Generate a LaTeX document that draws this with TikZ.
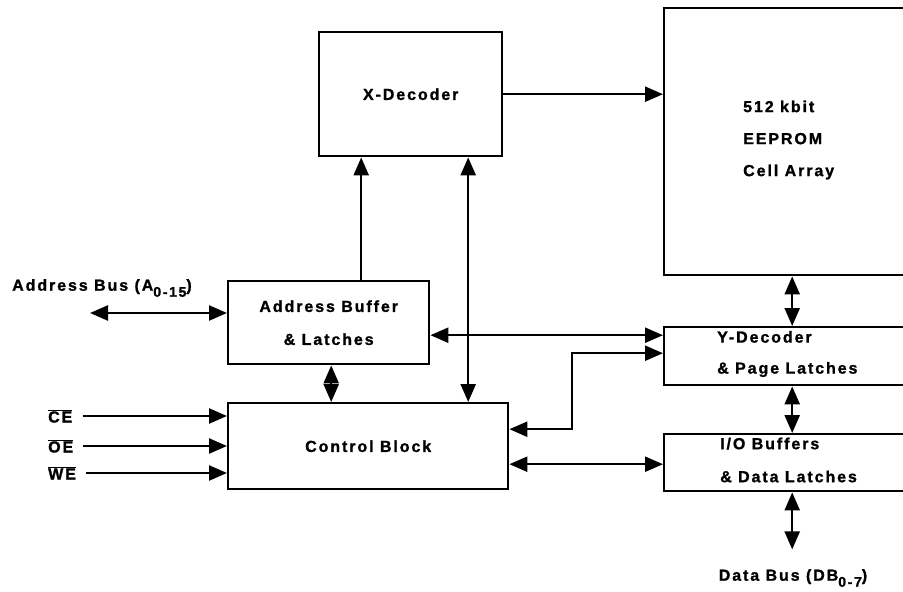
\documentclass[tikz,border=0pt]{standalone}
\usepackage{fontspec}
\setmainfont{Liberation Sans}[LetterSpace=12, UprightFont=* Bold, BoldFont=* Bold, FakeBold=1.2]
\usepackage{tikz}
\usetikzlibrary{arrows.meta, positioning, calc}

\newcommand{\lowsub}[1]{\raisebox{-6pt}{\fontsize{14}{14}\selectfont #1}}

\tikzset{
    blk/.style={draw, line width=2.4pt, inner sep=0pt, anchor=north west, align=center},
    lbl/.style={inner sep=0pt, align=left, font=\fontsize{16}{32}\selectfont},
    wire/.style={line width=2.4pt, -{Triangle[length=18pt, width=15pt]}},
    bus/.style={line width=2.4pt, {Triangle[length=18pt, width=15pt]}-{Triangle[length=18pt, width=15pt]}}
}

\begin{document}
\begin{tikzpicture}[x=1pt, y=-1pt, font=\fontsize{16}{33}\selectfont]
    \useasboundingbox (0,0) rectangle (903,592);
    \clip (0,0) rectangle (903,592);

    % blocks
    \node[blk, minimum width=183pt, minimum height=124pt] (xdec) at (318,31) {X-Decoder};
    \node[blk, minimum width=280pt, minimum height=267pt] (cells) at (663,7) {};
    \node[lbl, anchor=west] (cellt) at (743,140) {512 kbit\\EEPROM\\Cell Array};
    \node[blk, minimum width=201pt, minimum height=83pt] (abuf) at (227,280) {Address Buffer\\\& Latches};
    \node[blk, minimum width=280pt, minimum height=86pt] (ctrl) at (227,402) {Control Block};
    \node[blk, minimum width=280pt, minimum height=58pt] (ydec) at (663,326) {};
    \node[lbl, anchor=west, font=\fontsize{16}{31}\selectfont] (ydect) at (717,354) {Y-Decoder\\\& Page Latches};
    \node[blk, minimum width=280pt, minimum height=57pt] (iob) at (663,433) {};
    \node[lbl, anchor=west, font=\fontsize{16}{33}\selectfont] (iobt) at (720,460) {I/O Buffers\\\& Data Latches};

    % outside signals
    \node[lbl, anchor=west] (abusl) at (12,288) {Address Bus (A\lowsub{0-15})};
    \coordinate (abus) at (90,313);
    \node[lbl, anchor=west] (ce) at (48,416) {$\overline{\mbox{CE}}$};
    \node[lbl, anchor=west] (oe) at (48,446) {$\overline{\mbox{OE}}$};
    \node[lbl, anchor=west] (we) at (48,473) {$\overline{\mbox{WE}}$};
    \node[lbl] (dbusl) at (793,578) {Data Bus (DB\lowsub{0-7})};

    % connections
    \draw[wire] (xdec.east) -- (xdec.east -| cells.west);
    \draw[wire] ([xshift=32.5pt]abuf.north) -- ([xshift=32.5pt]abuf.north |- xdec.south);
    \draw[bus] ([xshift=57.5pt]xdec.south) -- ([xshift=57.5pt]xdec.south |- ctrl.north);
    \draw[bus] ([xshift=2.5pt]abuf.south) -- ([xshift=2.5pt]abuf.south |- ctrl.north);
    \draw[bus] (abus) -- (abus -| abuf.west);
    \foreach \sig in {ce, oe, we}
        \draw[wire, shorten <=10pt] (\sig.east) -- (\sig.east -| ctrl.west);
    \draw[bus] ([yshift=-12.5pt]abuf.east) -- ([yshift=-12.5pt]abuf.east -| ydec.west);
    \draw[bus] ([yshift=3pt]ydec.west) -- ++(-91,0) |- ([yshift=17pt]ctrl.east);
    \draw[bus] ([yshift=-18pt]ctrl.east) -- ([yshift=-18pt]ctrl.east -| iob.west);
    \draw[bus] ([xshift=-12pt]cells.south) -- ([xshift=-12pt]ydec.north);
    \draw[bus] ([xshift=-12pt]ydec.south) -- ([xshift=-12pt]iob.north);
    \draw[bus] ([xshift=-12pt]iob.south) -- ++(0,57);
\end{tikzpicture}
\end{document}
